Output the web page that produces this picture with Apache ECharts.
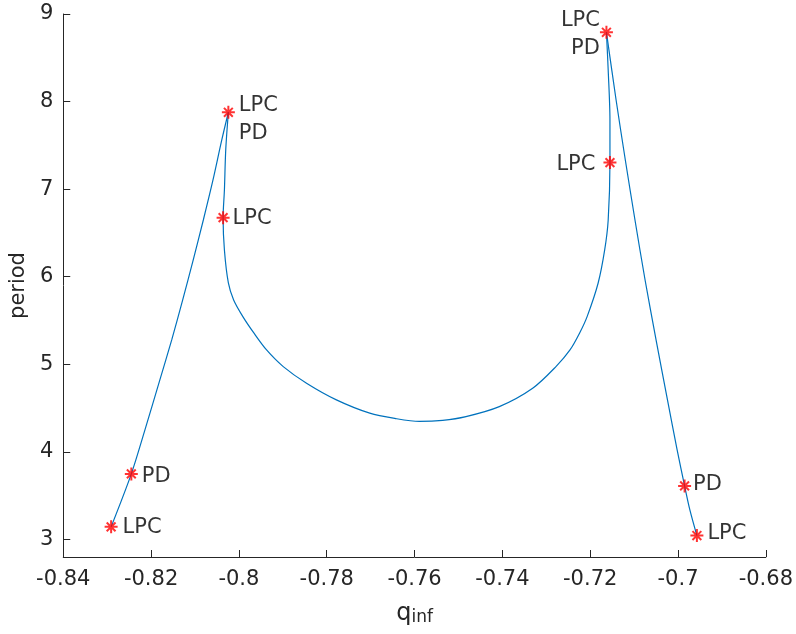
<!DOCTYPE html>
<html>
<head>
<meta charset="utf-8">
<script src="https://cdn.jsdelivr.net/npm/echarts@6/dist/echarts.min.js"></script>
<style>html,body{margin:0;padding:0;background:#fff;}#c{width:796px;height:634px;}</style>
</head>
<body>
<div id="c"></div>
<script>
// Continuation curve: q_inf vs period
const curveQ = [
  -0.8291, -0.8245, -0.8214, -0.8180, -0.8153, -0.8128, -0.8104, -0.8081, -0.8059, -0.8039, -0.8024,
  -0.8030, -0.8033, -0.8036, -0.8033, -0.8024, -0.8012, -0.7991, -0.7966, -0.7937, -0.7899, -0.7846,
  -0.7778, -0.7702, -0.7645, -0.7589, -0.7536, -0.7483, -0.7407, -0.7331, -0.7278, -0.7246, -0.7224,
  -0.7207, -0.7182, -0.7167, -0.7159, -0.7155, -0.7155, -0.7159, -0.7163,
  -0.7141, -0.7120, -0.7098, -0.7075, -0.7050, -0.7024, -0.7002, -0.6985, -0.6973, -0.6957];
const curvePeriod = [
  3.144, 3.749, 4.251, 4.822, 5.279, 5.735, 6.192, 6.648, 7.105, 7.562, 7.878,
  7.447, 6.991, 6.675, 6.306, 5.929, 5.735, 5.545, 5.358, 5.164, 4.974, 4.784,
  4.594, 4.442, 4.382, 4.348, 4.360, 4.403, 4.517, 4.727, 4.974, 5.164, 5.358,
  5.545, 5.926, 6.306, 6.648, 7.303, 7.790, 8.361, 8.791,
  8.018, 7.333, 6.648, 5.963, 5.279, 4.594, 4.023, 3.612, 3.338, 3.045];
// indices where the branch turns sharply (fold tips)
const foldIndex = [10, 40];

// Detected bifurcation points
const pointQ = [-0.8291, -0.8245, -0.8024, -0.8036, -0.7163, -0.7155, -0.6985, -0.6957];
const pointPeriod = [3.144, 3.749, 7.878, 6.675, 8.791, 7.303, 3.612, 3.045];
const pointLabel = ['LPC', 'PD', 'LPC\nPD', 'LPC', 'LPC\nPD', 'LPC', 'PD', 'LPC'];

const xTicks = [-0.84, -0.82, -0.8, -0.78, -0.76, -0.74, -0.72, -0.7, -0.68];
const yTicks = [3, 4, 5, 6, 7, 8, 9];

// label placement (style only)
const labelPlace = [
  {position: 'right', distance: 4, offset: [0, 1], align: 'left'},
  {position: 'right', distance: 3, offset: [0, 3], align: 'left'},
  {position: 'right', distance: 3, offset: [0, 7], align: 'left'},
  {position: 'right', distance: 2, offset: [0, 1], align: 'left'},
  {position: 'left', distance: -1, offset: [0, 2], align: 'right'},
  {position: 'left', distance: 7, offset: [0, 2], align: 'right'},
  {position: 'right', distance: 1, offset: [0, -1], align: 'left'},
  {position: 'right', distance: 3, offset: [0, -2], align: 'left'}
];

const FONT = 'DejaVu Sans';
const AX = '#262626';

const chart = echarts.init(document.getElementById('c'), null, {renderer: 'canvas'});

const allPts = curveQ.map((q, i) => [q, curvePeriod[i]]);
const bounds = [0, ...foldIndex, allPts.length - 1];
const lineSeries = [];
for (let s = 0; s < bounds.length - 1; s++) {
  lineSeries.push({
    type: 'line', data: allPts.slice(bounds[s], bounds[s + 1] + 1),
    showSymbol: false, symbol: 'none',
    lineStyle: {color: '#0072BD', width: 1.2}, smooth: 0.3, z: 2
  });
}

const ptData = pointQ.map((q, i) => ({
  value: [q, pointPeriod[i]],
  label: {
    show: true,
    formatter: pointLabel[i],
    position: labelPlace[i].position,
    distance: labelPlace[i].distance,
    offset: labelPlace[i].offset,
    align: labelPlace[i].align,
    color: '#000',
    fontFamily: FONT,
    fontSize: 21,
    lineHeight: 28
  }
}));

chart.setOption({
  animation: false,
  backgroundColor: '#fff',
  grid: {left: 63, right: 29, top: 14, bottom: 77, containLabel: false},
  xAxis: {
    type: 'value', min: -0.84, max: -0.68, interval: 0.02,
    name: '{q|q}{s|inf}', nameLocation: 'middle', nameGap: 36,
    nameTextStyle: {
      rich: {
        q: {fontFamily: FONT, fontSize: 24, color: AX, verticalAlign: 'bottom'},
        s: {fontFamily: FONT, fontSize: 17, color: AX, padding: [16, 0, 0, 0]}
      }
    },
    axisLine: {show: true, onZero: false, lineStyle: {color: AX, width: 1}},
    axisTick: {show: true, inside: true, length: 7, lineStyle: {color: AX}, customValues: xTicks},
    axisLabel: {show: true, color: AX, fontFamily: FONT, fontSize: 21, margin: 12, customValues: xTicks,
      formatter: v => String(v)},
    splitLine: {show: false}
  },
  yAxis: {
    type: 'value', min: 2.8, max: 9,
    name: 'period', nameLocation: 'middle', nameGap: 27,
    nameTextStyle: {fontFamily: FONT, fontSize: 21, color: AX},
    axisLine: {show: true, onZero: false, lineStyle: {color: AX, width: 1}},
    axisTick: {show: true, inside: true, length: 7, lineStyle: {color: AX}, customValues: yTicks},
    axisLabel: {show: true, color: AX, fontFamily: FONT, fontSize: 21, margin: 10, customValues: yTicks},
    splitLine: {show: false}
  },
  series: [
    ...lineSeries,
    {
      type: 'scatter', data: ptData,
      symbol: 'path://M5,0L5,10M0,5L10,5M1.6,1.6L8.4,8.4M1.6,8.4L8.4,1.6',
      symbolSize: 13,
      itemStyle: {color: 'rgba(0,0,0,0)', borderColor: '#FF0000', borderWidth: 2},
      z: 3
    }
  ]
});
</script>
</body>
</html>
